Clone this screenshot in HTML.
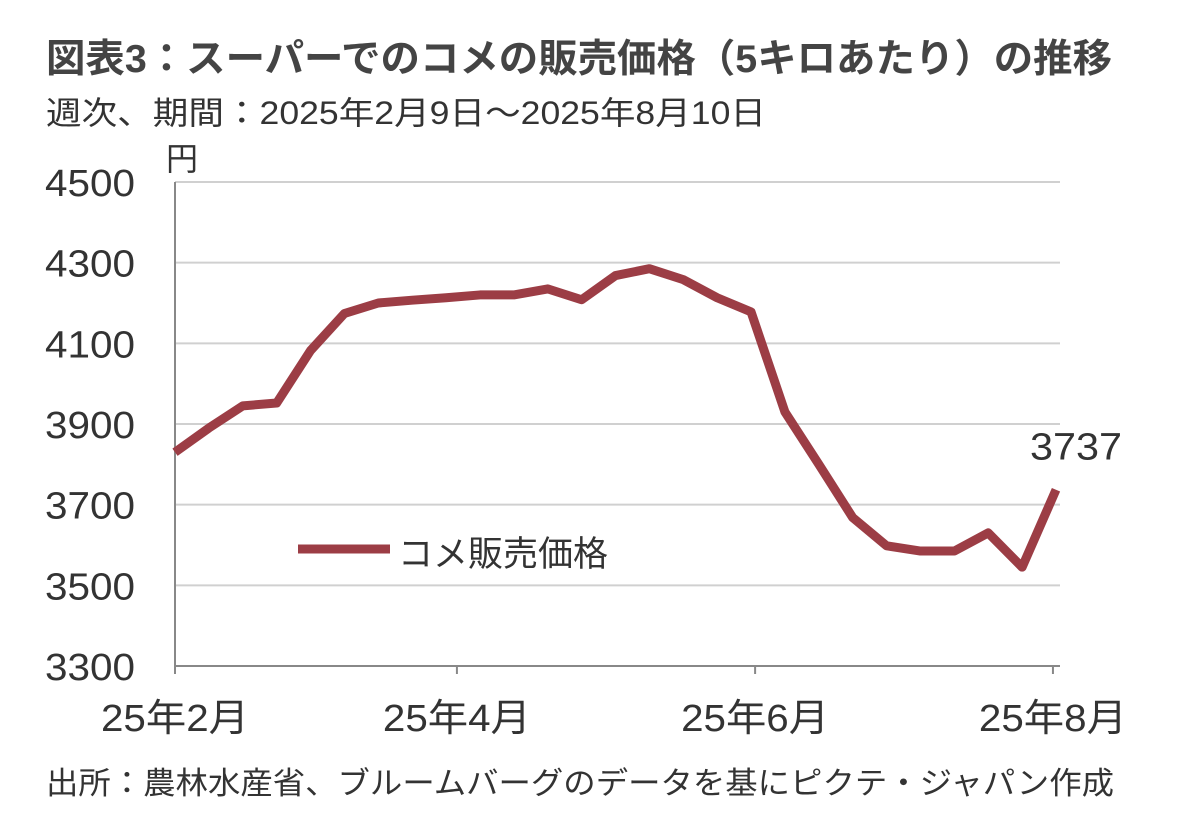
<!DOCTYPE html>
<html><head><meta charset="utf-8"><style>
body{margin:0;background:#fff;width:1182px;height:832px;overflow:hidden;font-family:"Liberation Sans","Noto Sans CJK JP",sans-serif;color:#333}
</style></head><body>
<svg width="1182" height="832" style="font-family:'Liberation Sans','Noto Sans CJK JP',sans-serif">
<text x="46" y="72" font-size="39" font-weight="bold" fill="#444" textLength="1066" lengthAdjust="spacingAndGlyphs">図表3：スーパーでのコメの販売価格（5キロあたり）の推移</text>
<text x="46" y="124" font-size="32" fill="#333" textLength="720" lengthAdjust="spacingAndGlyphs">週次、期間：2025年2月9日～2025年8月10日</text>
<text x="166" y="170" font-size="32" fill="#333">円</text>
<g id="grid"></g><g id="yt"></g><g id="xt"></g><g id="series"></g>
<line x1="298" y1="549" x2="390" y2="549" stroke="#9c3d45" stroke-width="9"/>
<text x="398" y="566" font-size="35" fill="#333">コメ販売価格</text>
<text x="46" y="794" font-size="31" fill="#333" textLength="1068" lengthAdjust="spacingAndGlyphs">出所：農林水産省、ブルームバーグのデータを基にピクテ・ジャパン作成</text>
</svg>
<script>
const prices=[3830,3890,3945,3952,4082,4174,4200,4207,4213,4220,4220,4235,4208,4268,4285,4258,4213,4178,3930,3800,3668,3598,3585,3585,3630,3545,3737];
const yTicks=[3300,3500,3700,3900,4100,4300,4500];
const xTickLabels=["25年2月","25年4月","25年6月","25年8月"];
const xTickIdx=[0,8.32,17.12,25.91];
const NS="http://www.w3.org/2000/svg";
const X0=175,X1=1056,Y0=666,Y1=182;
const xs=i=>X0+(X1-X0)*i/(prices.length-1);
const ys=v=>Y0-(v-3300)/(4500-3300)*(Y0-Y1);
function mk(t,a,p){const e=document.createElementNS(NS,t);for(const k in a)e.setAttribute(k,a[k]);document.getElementById(p).appendChild(e);return e;}
yTicks.forEach(v=>{
 const l=mk("line",{x1:X0,x2:1060,y1:ys(v),y2:ys(v),stroke:v===3300?"#888":"#d0d0d0","stroke-width":2},"grid");
 
 
 const t=mk("text",{x:135,y:ys(v)+14,"font-size":38,"text-anchor":"end",fill:"#333",textLength:90,lengthAdjust:"spacingAndGlyphs"},"yt");
 t.textContent=v;
 
 
});
const ax=mk("line",{x1:X0,x2:X0,y1:Y1,y2:Y0+8,stroke:"#888","stroke-width":2},"grid");


xTickLabels.forEach((s,i)=>{
 const x=xs(xTickIdx[i]);
 const tk=mk("line",{x1:x,x2:x,y1:Y0,y2:Y0+8,stroke:"#888","stroke-width":2},"xt");
 
 
 const t=mk("text",{x:x,y:731,"font-size":38,"text-anchor":"middle",fill:"#333",textLength:148,lengthAdjust:"spacingAndGlyphs"},"xt");
 t.textContent=s;
 
 
});
const pl=mk("polyline",{points:prices.map((v,i)=>xs(i)+","+ys(v)).join(" "),fill:"none",stroke:"#9c3d45","stroke-width":9,"stroke-linejoin":"round"},"series");


const last=prices.length-1;
const lb=mk("text",{x:xs(last)+20,y:ys(prices[last])-30,"font-size":38,"text-anchor":"middle",fill:"#333",textLength:92,lengthAdjust:"spacingAndGlyphs"},"series");
lb.textContent=prices[last];


</script>
</body></html>
